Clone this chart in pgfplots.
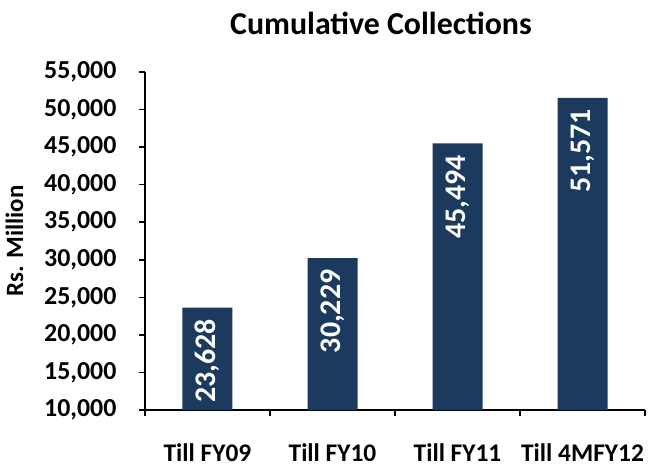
\documentclass[border=0pt]{standalone}
\usepackage{pgfplots}
\pgfplotsset{compat=1.18}
\usepackage{fontspec}
\setmainfont{Carlito}
\definecolor{barblue}{RGB}{28,57,94}
\begin{document}
\begin{tikzpicture}
\begin{axis}[
  scale only axis,
  width=500bp, height=338bp,
  xmin=-0.5, xmax=3.5,
  ymin=10000, ymax=55000,
  ytick={10000,15000,...,55000},
  scaled y ticks=false,
  xtick={-0.5,0.5,1.5,2.5,3.5},
  x tick label as interval,
  xticklabels={Till FY09,Till FY10,Till FY11,Till 4MFY12},
  axis x line*=bottom, axis y line*=left,
  axis line style={line width=1.6pt, -},
  tick style={line width=1.6pt, black},
  tick align=outside,
  major tick length=6bp,
  yticklabel={\pgfmathprintnumber[fixed,1000 sep={,},assume math mode=true]{\tick}},
  yticklabel style={font=\fontsize{26}{26}\selectfont\bfseries, xshift=-19bp},
  xticklabel style={font=\fontsize{25.5}{25.5}\selectfont\bfseries, yshift=-24bp},
  ylabel={Rs. Million},
  ylabel style={font=\fontsize{25}{25}\selectfont\bfseries, yshift=14bp},
  title={Cumulative Collections},
  title style={font=\fontsize{32}{32}\selectfont\bfseries, yshift=28bp, xshift=-14bp},
  ybar, bar width=50bp,
  nodes near coords={\pgfmathprintnumber[fixed,1000 sep={,},assume math mode=true]{\pgfplotspointmeta}},
  every node near coord/.append style={rotate=90, anchor=east, xshift=-8bp,
     font=\fontsize{30}{30}\selectfont\bfseries, text=white},
  clip=false,
]
\addplot[fill=barblue, draw=none] coordinates {(0,23628) (1,30229) (2,45494) (3,51571)};
\end{axis}
\path (current axis.south west) ++(-145bp,-53bp) rectangle ++(660bp,463bp);
\end{tikzpicture}
\end{document}
